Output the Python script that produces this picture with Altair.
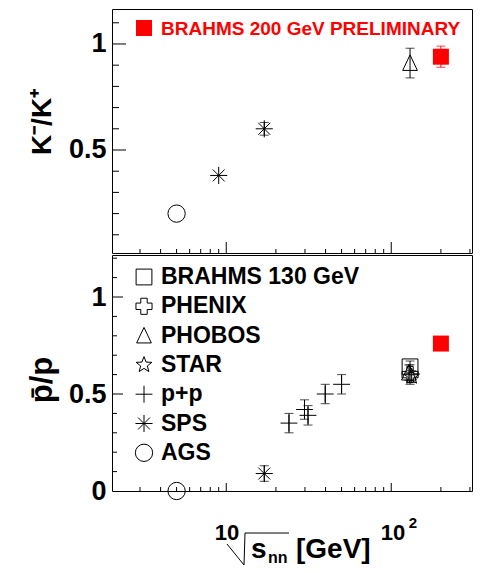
import math
import altair as alt
import pandas as pd

# ---------------- data ----------------
# K-/K+ (top panel)
k_names = ["AGS", "SPS", "SPS", "PHOBOS"]
k_sqrts = [5.0, 9.0, 17.0, 130.0]
k_vals = [0.20, 0.38, 0.60, 0.91]
k_errs = [0.0, 0.0, 0.03, 0.07]

# pbar/p (bottom panel)
p_names = ["AGS", "SPS", "p+p", "p+p", "p+p", "p+p", "p+p",
           "BRAHMS 130 GeV", "PHENIX", "PHOBOS", "STAR"]
p_sqrts = [5.0, 17.0, 24.0, 29.8, 31.3, 39.8, 50.0, 130.0, 130.0, 128.0, 133.0]
p_vals = [0.0, 0.09, 0.35, 0.42, 0.39, 0.50, 0.55, 0.64, 0.60, 0.61, 0.59]
p_errs = [0.0, 0.04, 0.05, 0.05, 0.05, 0.05, 0.05, 0.03, 0.05, 0.04, 0.03]

# BRAHMS 200 GeV preliminary
b200_sqrts = [200.0]
b200_k = [0.94]
b200_k_err = [0.05]
b200_p = [0.76]

legend_bottom = ["BRAHMS 130 GeV", "PHENIX", "PHOBOS", "STAR", "p+p", "SPS", "AGS"]
legend_top = ["BRAHMS 200 GeV PRELIMINARY"]

x_major = [10, 100]
x_minor = [3, 4, 5, 6, 7, 8, 9, 20, 30, 40, 50, 60, 70, 80, 90, 200, 300]
y_major = [0.5, 1.0]
y_minor_top = [0.1, 0.2, 0.3, 0.4, 0.6, 0.7, 0.8, 0.9, 1.1]
y_minor_bot = [0.1, 0.2, 0.3, 0.4, 0.6, 0.7, 0.8, 0.9, 1.1, 1.2]
y_labels_top = [0.5, 1.0]
y_labels_bot = [0.0, 0.5, 1.0]

# ---------------- styles ----------------
FONT = "Liberation Sans"
RED = "#ff0000"
W = 360
H_TOP = 244
H_BOT = 236


def star_path():
    pts = []
    for k in range(10):
        r = 1.0 if k % 2 == 0 else 0.42
        a = math.radians(-90 + 36 * k)
        pts.append(f"{r * math.cos(a):.3f},{r * math.sin(a):.3f}")
    return "M" + "L".join(pts) + "Z"


shape_map = {
    "BRAHMS 130 GeV": "square",
    "PHENIX": "cross",
    "PHOBOS": "M0,-1L-0.9,0.9L0.9,0.9Z",
    "STAR": star_path(),
    "p+p": "M-1,0L1,0M0,-1L0,1",
    "SPS": "M-1,0L1,0M0,-1L0,1M-0.7,-0.7L0.7,0.7M-0.7,0.7L0.7,-0.7",
    "AGS": "circle",
}
size_map = {
    "BRAHMS 130 GeV": 250, "PHENIX": 300, "PHOBOS": 324, "STAR": 320,
    "p+p": 225, "SPS": 256, "AGS": 256,
}
exp_domain = list(shape_map.keys())
shape_enc = alt.Shape("name:N", scale=alt.Scale(domain=exp_domain, range=[shape_map[e] for e in exp_domain]), legend=None)
size_enc = alt.Size("name:N", scale=alt.Scale(domain=exp_domain, range=[size_map[e] for e in exp_domain]), legend=None)

xs = alt.Scale(type="log", domain=[2.03, 308.7], nice=False)


def yaxis(vals):
    return alt.Axis(values=vals, format="~g", ticks=False, tickSize=0, domain=False, grid=False,
                    title=None, labelFontSize=27, labelFont=FONT, labelFontWeight="bold",
                    labelColor="black", labelPadding=6)


def panel(names, sqrts, vals, errs, red_x, red_y, red_err, ys, ylabels, yminor, height,
          xmaj_len, xmin_len, ymaj_len, ymin_len):
    ax = yaxis(ylabels)
    X = lambda: alt.X("x:Q", scale=xs, axis=None)
    Y = lambda: alt.Y("y:Q", scale=ys, axis=ax)

    df = pd.DataFrame({"name": names, "x": sqrts, "y": vals, "e": errs})
    df["lo"] = df["y"] - df["e"]
    df["hi"] = df["y"] + df["e"]
    dfe = df[df["e"] > 0]

    layers = []
    # x ticks, inward from the bottom of the frame
    layers.append(alt.Chart(pd.DataFrame({"x": x_major})).mark_rule(color="black", strokeWidth=1).encode(
        x=X(), y=alt.value(height), y2=alt.value(height - xmaj_len)))
    layers.append(alt.Chart(pd.DataFrame({"x": x_minor})).mark_rule(color="black", strokeWidth=1).encode(
        x=X(), y=alt.value(height), y2=alt.value(height - xmin_len)))
    # y ticks, inward from the left
    layers.append(alt.Chart(pd.DataFrame({"y": y_major})).mark_rule(color="black", strokeWidth=1).encode(
        y=Y(), x=alt.value(0), x2=alt.value(ymaj_len)))
    layers.append(alt.Chart(pd.DataFrame({"y": yminor})).mark_rule(color="black", strokeWidth=1).encode(
        y=Y(), x=alt.value(0), x2=alt.value(ymin_len)))

    # error bars
    if len(dfe):
        layers.append(alt.Chart(dfe).mark_rule(color="black", strokeWidth=1).encode(
            x=X(), y=alt.Y("lo:Q", scale=ys, axis=ax), y2="hi:Q"))
        layers.append(alt.Chart(dfe).mark_tick(orient="horizontal", size=9, thickness=1, color="black").encode(
            x=X(), y=alt.Y("lo:Q", scale=ys, axis=ax)))
        layers.append(alt.Chart(dfe).mark_tick(orient="horizontal", size=9, thickness=1, color="black").encode(
            x=X(), y=alt.Y("hi:Q", scale=ys, axis=ax)))
    # open markers
    layers.append(alt.Chart(df).mark_point(filled=False, color="black", strokeWidth=1, opacity=1).encode(
        x=X(), y=Y(), shape=shape_enc, size=size_enc))

    # BRAHMS 200 (red)
    dr = pd.DataFrame({"x": red_x, "y": red_y, "e": red_err})
    dr["lo"] = dr["y"] - dr["e"]
    dr["hi"] = dr["y"] + dr["e"]
    dre = dr[dr["e"] > 0]
    if len(dre):
        layers.append(alt.Chart(dre).mark_rule(color=RED, strokeWidth=1).encode(
            x=X(), y=alt.Y("lo:Q", scale=ys, axis=ax), y2="hi:Q"))
        layers.append(alt.Chart(dre).mark_tick(orient="horizontal", size=9, thickness=1, color=RED).encode(
            x=X(), y=alt.Y("lo:Q", scale=ys, axis=ax)))
        layers.append(alt.Chart(dre).mark_tick(orient="horizontal", size=9, thickness=1, color=RED).encode(
            x=X(), y=alt.Y("hi:Q", scale=ys, axis=ax)))
    layers.append(alt.Chart(dr).mark_square(size=256, color=RED, opacity=1).encode(x=X(), y=Y()))
    return layers


ys_top = alt.Scale(domain=[0.0142, 1.165], nice=False, zero=False)
ys_bot = alt.Scale(domain=[0.0, 1.2165], nice=False, zero=False)

top_layers = panel(k_names, k_sqrts, k_vals, k_errs, b200_sqrts, b200_k, b200_k_err,
                   ys_top, y_labels_top, y_minor_top, H_TOP, 11, 4, 14, 7)
bot_layers = panel(p_names, p_sqrts, p_vals, p_errs, b200_sqrts, b200_p, [0.0],
                   ys_bot, y_labels_bot, y_minor_bot, H_BOT, 8, 4, 11, 5)

one = pd.DataFrame({"a": [0]})

# top legend + y title
top_layers += [
    alt.Chart(one).mark_square(size=256, color=RED, opacity=1).encode(x=alt.value(32), y=alt.value(19)),
    alt.Chart(pd.DataFrame({"t": legend_top})).mark_text(
        align="left", baseline="middle", font=FONT, fontWeight="bold", fontSize=19, color=RED).encode(
        x=alt.value(49), y=alt.value(20), text="t:N"),
    alt.Chart(pd.DataFrame({"t": ["K\u207b/K\u207a"]})).mark_text(
        angle=270, align="center", baseline="middle", font=FONT, fontWeight="bold", fontSize=28, color="black").encode(
        x=alt.value(-69), y=alt.value(113), text="t:N"),
    # bounding anchor at the page's left margin
    alt.Chart(one).mark_rule(color="white", strokeWidth=1).encode(
        x=alt.value(-103), y=alt.value(0), y2=alt.value(5)),
]

# bottom legend
leg = pd.DataFrame({"name": legend_bottom})
leg["ly"] = [22 + 29.3 * i for i in range(len(legend_bottom))]
bot_layers += [
    alt.Chart(leg).mark_point(filled=False, color="black", strokeWidth=1, opacity=1).encode(
        x=alt.value(32), y=alt.Y("ly:Q", scale=None, axis=None), shape=shape_enc, size=size_enc),
    alt.Chart(leg).mark_text(align="left", baseline="middle", font=FONT, fontWeight="bold",
                             fontSize=23, color="black").encode(
        x=alt.value(49), y=alt.Y("ly:Q", scale=None, axis=None), text="name:N"),
    alt.Chart(pd.DataFrame({"t": ["p\u0304/p"]})).mark_text(
        angle=270, align="center", baseline="middle", font=FONT, fontWeight="bold", fontSize=31, color="black").encode(
        x=alt.value(-69), y=alt.value(125), text="t:N"),
]

# x tick labels and title (below bottom panel)
def txt(s, x, y, size, align="center"):
    return alt.Chart(pd.DataFrame({"t": [s]})).mark_text(
        align=align, baseline="alphabetic", font=FONT, fontWeight="bold", fontSize=size, color="black").encode(
        x=alt.value(x), y=alt.value(y), text="t:N")

bot_layers += [
    txt("10", 115, 285, 22),
    txt("10", 281, 285, 22),
    txt("2", 301, 273, 15),
    txt("s", 139, 303, 28, "left"),
    txt("nn", 156, 308, 16, "left"),
    txt("[GeV]", 184, 303, 28, "left"),
    alt.Chart(one).mark_rule(color="black", strokeWidth=1).encode(
        x=alt.value(115), y=alt.value(289), x2=alt.value(132), y2=alt.value(310)),
    alt.Chart(one).mark_rule(color="black", strokeWidth=1).encode(
        x=alt.value(132), y=alt.value(310), x2=alt.value(133), y2=alt.value(278)),
    alt.Chart(one).mark_rule(color="black", strokeWidth=1).encode(
        x=alt.value(133), y=alt.value(278), x2=alt.value(177), y2=alt.value(278)),
]

top = alt.layer(*top_layers).properties(width=W, height=H_TOP)
bottom = alt.layer(*bot_layers).properties(width=W, height=H_BOT)

chart = alt.vconcat(top, bottom, spacing=0).properties(
    padding=0, background="white"
).configure_view(stroke="black", strokeWidth=1)

chart.save("out.html", embed_options={"renderer": "svg", "actions": False})
